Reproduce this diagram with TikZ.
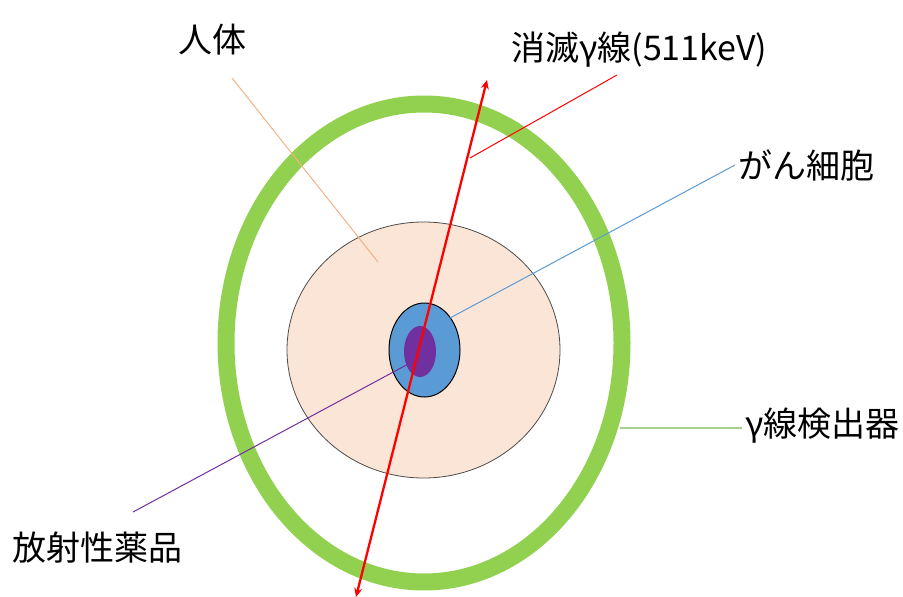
\documentclass[tikz,border=0pt]{standalone}
\usepackage{fontspec}
\setmainfont{Noto Sans CJK JP}
\usetikzlibrary{shapes.geometric,arrows.meta}
\definecolor{ringgreen}{HTML}{92D050}
\definecolor{bodypeach}{HTML}{FBE5D6}
\definecolor{cellblue}{HTML}{5B9BD5}
\definecolor{drugpurple}{HTML}{7030A0}
\definecolor{leaderpeach}{HTML}{F4B183}
\definecolor{leadergreen}{HTML}{A9D18E}
\tikzset{
  lbl/.style={anchor=west,inner sep=0pt,font=\fontsize{34pt}{36pt}\selectfont},
  oval/.style={ellipse,inner sep=0pt},
  leader/.style={line width=1pt}
}
\begin{document}
\begin{tikzpicture}[x=1pt,y=-1pt]
\useasboundingbox (0,0) rectangle (903,597);
% detector ring
\node[oval,draw=ringgreen,line width=17pt,minimum width=396pt,minimum height=478pt] (ring) at (424,343) {};
% body
\node[oval,draw=black!70,line width=0.8pt,fill=bodypeach,minimum width=273pt,minimum height=256pt] (body) at (423.5,350) {};
% labels
\node[lbl] (tbody) at (178,40) {人体};
\node[lbl] (tgamma) at (511,50) {消滅γ線(511keV)};
\node[lbl] (tcell) at (738,166) {がん細胞};
\node[lbl] (tdet) at (745,426) {γ線検出器};
\node[lbl] (tdrug) at (12,548) {放射性薬品};
% leader ends
\coordinate (bodyend) at (378,262);
\coordinate (bodystart) at (232,78);
\coordinate (gstart) at (617,75);
\coordinate (gend) at (470,158);
\coordinate (cstart) at (735,165);
\coordinate (cend) at (450,318);
\coordinate (dstart) at (742,428);
\coordinate (dend) at (620,428);
\coordinate (pstart) at (133,512);
\coordinate (pend) at (412,362);
\draw[leader,leaderpeach] (bodystart) -- (bodyend);
\draw[leader,leadergreen,line width=1.5pt] (dstart) -- (dend);
% cancer cell
\node[oval,draw=black,line width=1pt,fill=cellblue,minimum width=71pt,minimum height=94pt] (cell) at (424.5,350) {};
\node[oval,fill=drugpurple,minimum width=32pt,minimum height=51pt] (drug) at (420,351.5) {};
\draw[leader,cellblue] (cstart) -- (cend);
\draw[leader,drugpurple] (pstart) -- (pend);
% gamma rays
\coordinate (rtop) at (487,80);
\coordinate (rbot) at (356,597);
\draw[red,line width=2.3pt,{Stealth[length=9pt,width=8pt]}-{Stealth[length=9pt,width=8pt]}] (rbot) -- (rtop);
\draw[leader,red] (gstart) -- (gend);
\end{tikzpicture}
\end{document}
